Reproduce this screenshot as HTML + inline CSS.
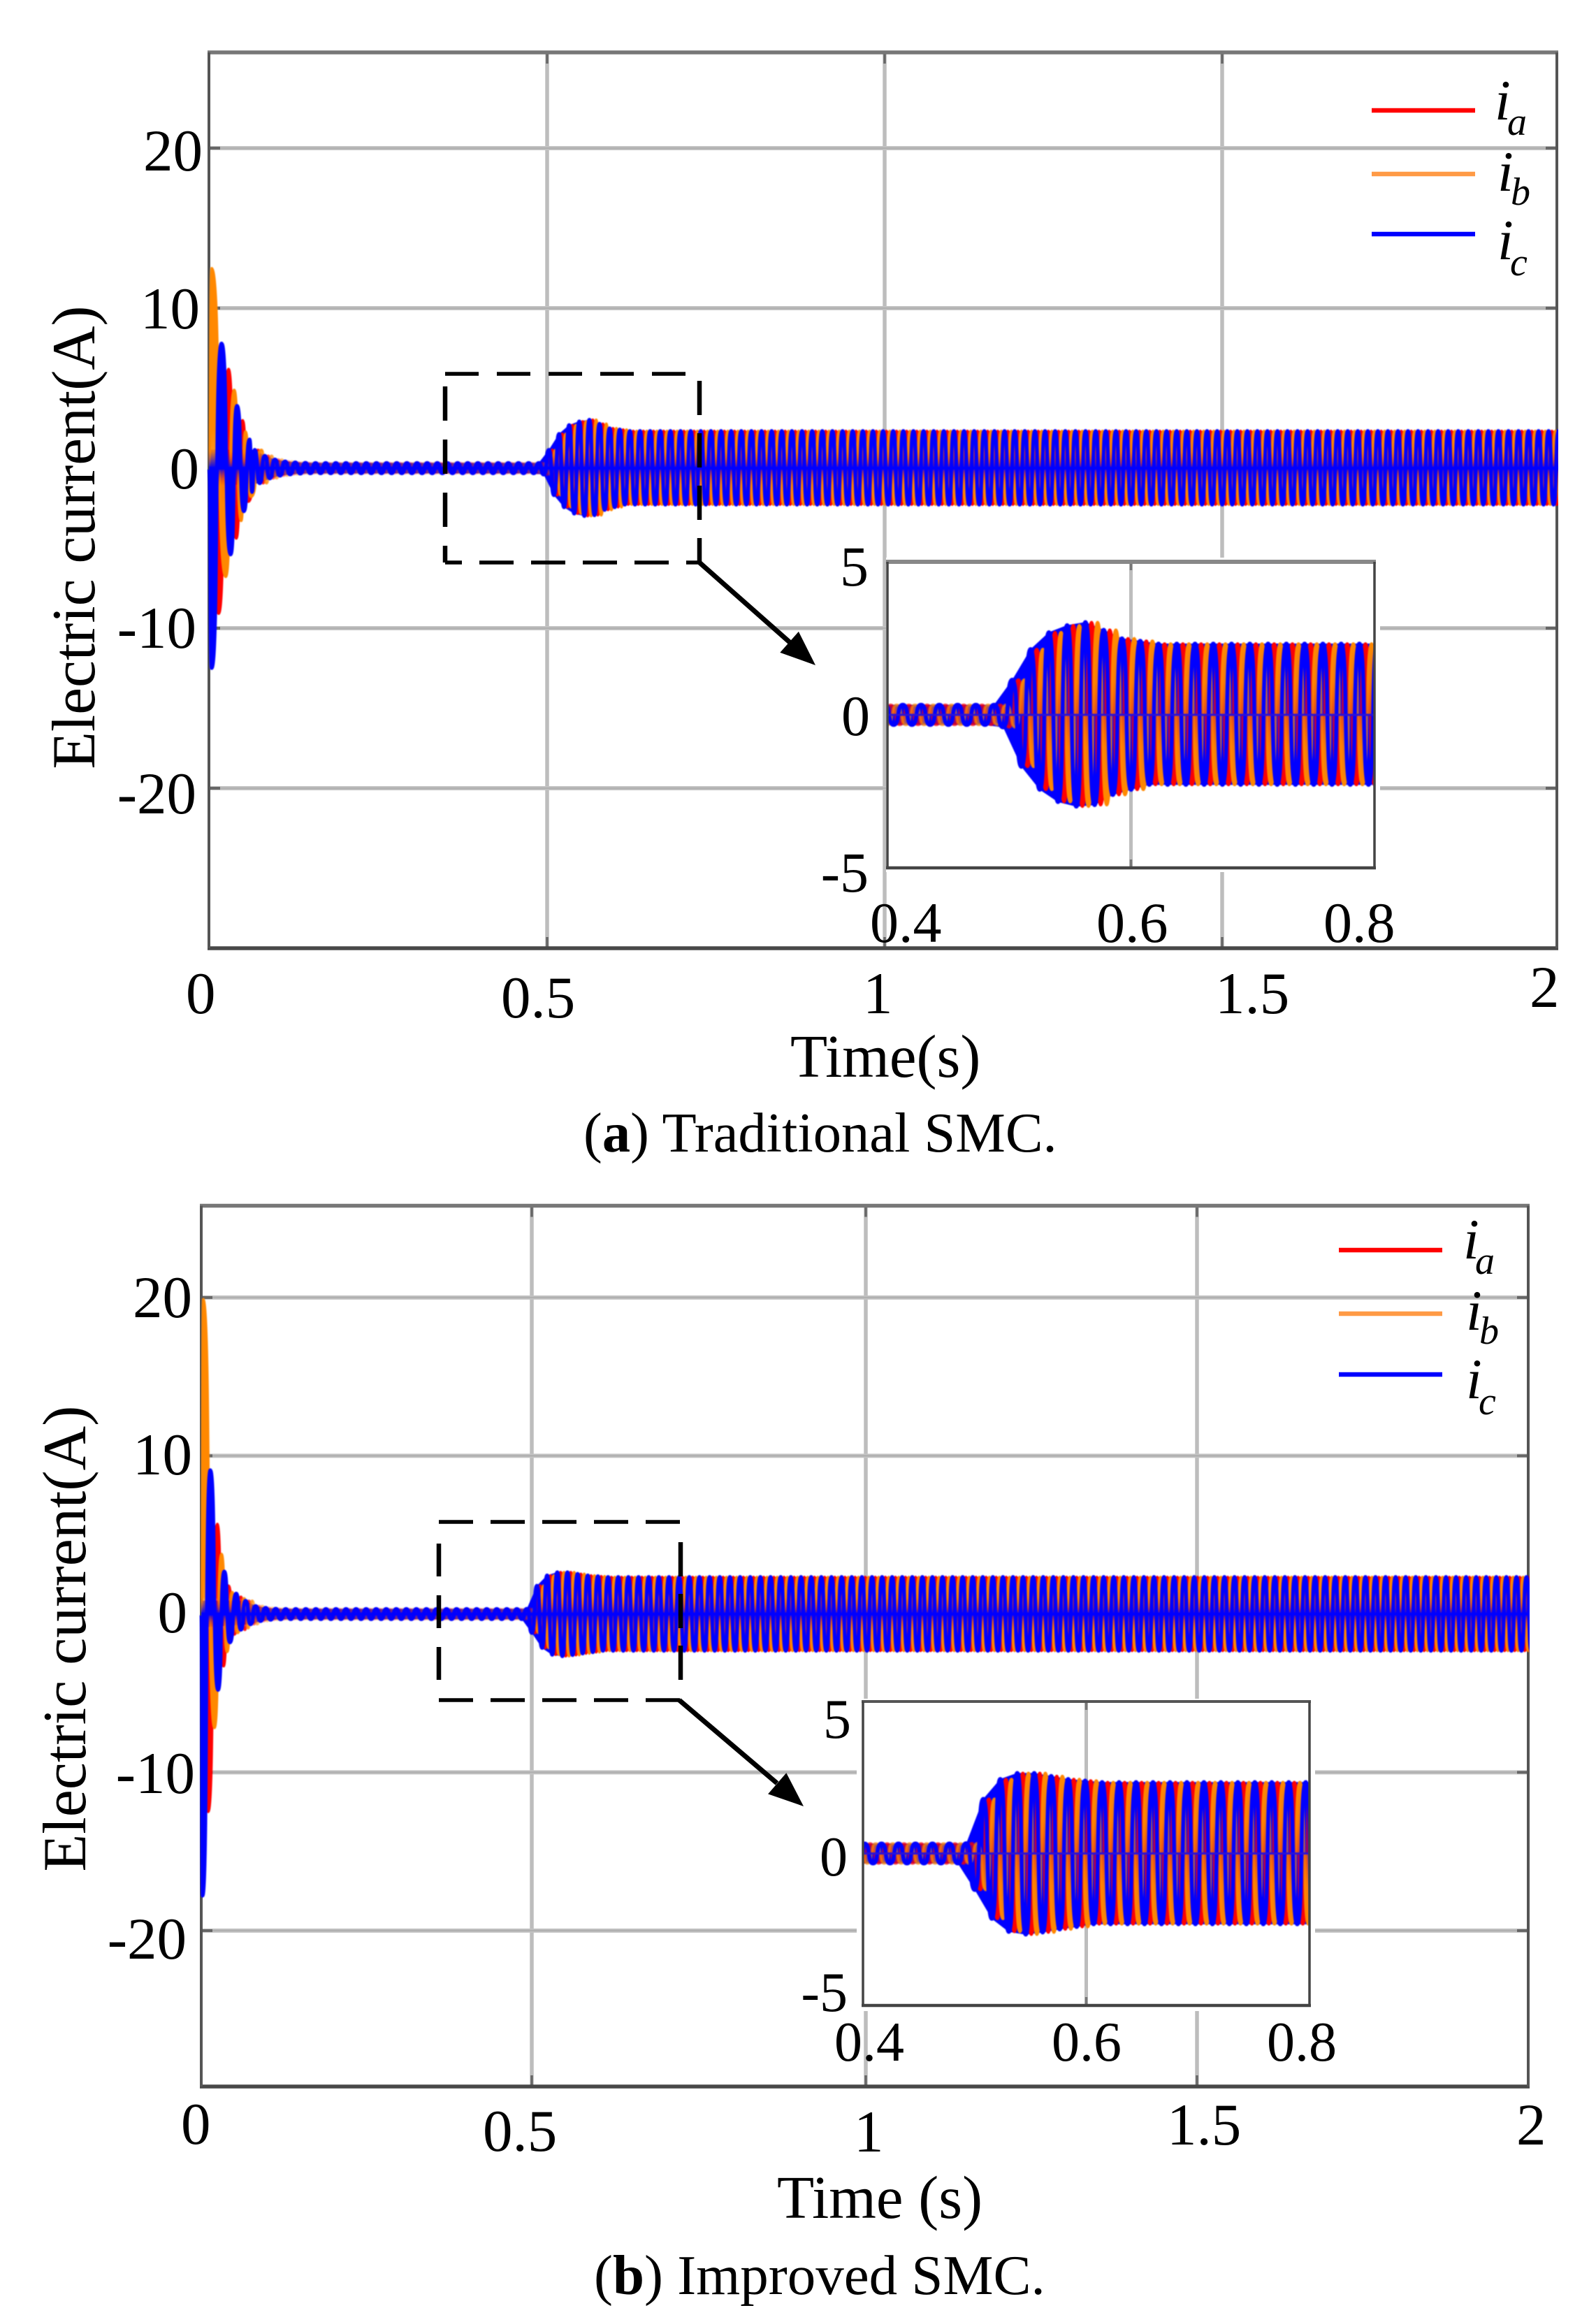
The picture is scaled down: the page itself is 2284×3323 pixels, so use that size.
<!DOCTYPE html>
<html lang="en">
<head>
<meta charset="utf-8">
<title>Three-phase current response: Traditional SMC vs Improved SMC</title>
<style>
html,body{margin:0;padding:0;background:#fff;}
svg{display:block;}
text{font-family:"Liberation Serif",serif;fill:#000;}
</style>
</head>
<body>
<svg id="figure" xmlns="http://www.w3.org/2000/svg" width="2284" height="3323" viewBox="0 0 2284 3323">
<rect width="2284" height="3323" fill="#fff"/>
<defs id="figure-defs">
<clipPath id="clip-main-a"><rect x="296" y="75" width="1934" height="1282"/></clipPath>
<clipPath id="clip-inset-a"><rect x="1270" y="804" width="697" height="438"/></clipPath>
<clipPath id="clip-main-b"><rect x="285" y="1725" width="1904" height="1261"/></clipPath>
<clipPath id="clip-inset-b"><rect x="1235" y="2435" width="639" height="435"/></clipPath>
</defs>

<g id="panel-a">
<g id="main-a"></g>
<g id="box-a" fill="none" stroke="#000">
<line x1="637" y1="535" x2="1003" y2="535" stroke-width="5.5" stroke-dasharray="48 26"/>
<line x1="637" y1="805" x2="1003" y2="805" stroke-width="5.5" stroke-dasharray="24 25 49 25 49 25 49 25 49 25 49 25"/>
<line x1="637" y1="553" x2="637" y2="805" stroke-width="6.5" stroke-dasharray="49 27"/>
<line x1="1001" y1="545" x2="1001" y2="805" stroke-width="6.5" stroke-dasharray="49 26"/>
</g>
<g>
<line x1="1001" y1="805" x2="1130" y2="919" stroke="#000" stroke-width="7"/>
<polygon points="1167,952 1116.3,933.9 1142.9,903.9" fill="#000"/>
</g>
<g>
<g>
<line x1="1963" y1="158" x2="2111" y2="158" stroke="#ff0000" stroke-width="6.5"/>
<text x="2139" y="171" font-size="82" font-style="italic">i</text>
<text x="2157" y="193" font-size="56" font-style="italic">a</text>
</g>
<g>
<line x1="1963" y1="249" x2="2111" y2="249" stroke="#ff9a45" stroke-width="6.5"/>
<text x="2143" y="273" font-size="82" font-style="italic">i</text>
<text x="2162" y="293" font-size="56" font-style="italic">b</text>
</g>
<g>
<line x1="1963" y1="335" x2="2111" y2="335" stroke="#0000ff" stroke-width="6.5"/>
<text x="2143" y="371" font-size="82" font-style="italic">i</text>
<text x="2161" y="394" font-size="56" font-style="italic">c</text>
</g>
</g>
<g font-size="85">
<text x="290" y="244" text-anchor="end">20</text>
<text x="286" y="470" text-anchor="end">10</text>
<text x="285" y="699" text-anchor="end">0</text>
<text x="281" y="927" text-anchor="end">-10</text>
<text x="281" y="1164" text-anchor="end">-20</text>
</g>
<g font-size="85">
<text x="266" y="1450">0</text>
<text x="717" y="1456">0.5</text>
<text x="1235" y="1450">1</text>
<text x="1739" y="1450">1.5</text>
<text x="2189" y="1441">2</text>
</g>
<text x="1131" y="1541" font-size="87">Time(s)</text>
<text transform="translate(135 769) rotate(-90)" text-anchor="middle" font-size="87.5">Electric current(A)</text>
<text x="835" y="1648" font-size="80.5">(<tspan font-weight="bold">a</tspan>) Traditional SMC.</text>
<g font-size="82">
<text x="1243" y="838" text-anchor="end">5</text>
<text x="1245" y="1052" text-anchor="end">0</text>
<text x="1243" y="1276" text-anchor="end">-5</text>
</g>
<g font-size="82">
<text x="1245" y="1348">0.4</text>
<text x="1569" y="1348">0.6</text>
<text x="1894" y="1348">0.8</text>
</g>
</g>

<g id="panel-b">
<g id="main-b"></g>
<g id="box-b" fill="none" stroke="#000">
<line x1="628" y1="2178" x2="976" y2="2178" stroke-width="5.5" stroke-dasharray="49 25"/>
<line x1="628" y1="2433" x2="976" y2="2433" stroke-width="5.5" stroke-dasharray="49 25"/>
<line x1="628" y1="2209" x2="628" y2="2408" stroke-width="6.5" stroke-dasharray="47 27"/>
<line x1="974" y1="2207" x2="974" y2="2406" stroke-width="6.5" stroke-dasharray="49 25"/>
</g>
<g>
<line x1="972" y1="2433" x2="1112" y2="2552" stroke="#000" stroke-width="7"/>
<polygon points="1150,2585 1099.1,2567.4 1125.3,2537.2" fill="#000"/>
</g>
<g>
<g>
<line x1="1916" y1="1789" x2="2064" y2="1789" stroke="#ff0000" stroke-width="6.5"/>
<text x="2094" y="1801" font-size="82" font-style="italic">i</text>
<text x="2111" y="1823" font-size="56" font-style="italic">a</text>
</g>
<g>
<line x1="1916" y1="1880" x2="2064" y2="1880" stroke="#ff9a45" stroke-width="6.5"/>
<text x="2098" y="1903" font-size="82" font-style="italic">i</text>
<text x="2117" y="1923" font-size="56" font-style="italic">b</text>
</g>
<g>
<line x1="1916" y1="1967" x2="2064" y2="1967" stroke="#0000ff" stroke-width="6.5"/>
<text x="2098" y="2001" font-size="82" font-style="italic">i</text>
<text x="2116" y="2024" font-size="56" font-style="italic">c</text>
</g>
</g>
<g font-size="85">
<text x="275" y="1885" text-anchor="end">20</text>
<text x="275" y="2110" text-anchor="end">10</text>
<text x="268" y="2336" text-anchor="end">0</text>
<text x="279" y="2566" text-anchor="end">-10</text>
<text x="267" y="2803" text-anchor="end">-20</text>
</g>
<g font-size="85">
<text x="259" y="3068">0</text>
<text x="691" y="3078">0.5</text>
<text x="1222" y="3079">1</text>
<text x="1670" y="3069">1.5</text>
<text x="2170" y="3069">2</text>
</g>
<text x="1112" y="3174" font-size="87">Time (s)</text>
<text transform="translate(122 2345) rotate(-90)" text-anchor="middle" font-size="88">Electric current(A)</text>
<text x="850" y="3283" font-size="81">(<tspan font-weight="bold">b</tspan>) Improved SMC.</text>
<g font-size="80">
<text x="1218" y="2487" text-anchor="end">5</text>
<text x="1213" y="2684" text-anchor="end">0</text>
<text x="1213" y="2878" text-anchor="end">-5</text>
</g>
<g font-size="80">
<text x="1194" y="2949">0.4</text>
<text x="1505" y="2949">0.6</text>
<text x="1813" y="2949">0.8</text>
</g>
</g>
</svg>

<script>
// ---- Axis ticks ----
const mainXTicks = [0.5, 1, 1.5];
const mainYTicks = [-20, -10, 0, 10, 20];
const insetXTicks = [0.6];

// ---- Panel (a) Traditional SMC: start-up peaks read per phase (seconds, amperes) ----
const transientTimeRedA = [0, 0.0145, 0.029, 0.0404, 0.0498, 0.0581];
const transientPeakRedA = [0, -9.1, 6.2, -4.4, 3.0, -2.1];
const transientTimeOrangeA = [0, 0.004, 0.0249, 0.0373, 0.0477, 0.0539, 0.0621];
const transientPeakOrangeA = [0, 12.5, -6.8, 4.9, -3.3, 2.3, -1.8];
const transientTimeBlueA = [0, 0.004, 0.0187, 0.0321, 0.0415, 0.0518, 0.0601, 0.0638];
const transientPeakBlueA = [0, -12.5, 7.8, -5.4, 3.9, -2.7, 1.8, -1.5];
const halfCycleA = 0.0075;
const firstBandPeakA = {red: 0.0726, orange: 0.0776, blue: 0.0676};
// Peak magnitude of each successive half cycle after start-up (shared by the phases)
const bandPeaksA = [
1.15,.95,.78,.65,.55,.48,.43,.4,.37,.35,.34,
.33,.33,.33,.33,.33,.33,.33,.33,.33,.33,
.33,.33,.33,.33,.33,.33,.33,.33,.33,.33,
.33,.33,.33,.33,.33,.33,.33,.33,.33,.33,
.33,.33,.33,.33,.33,.33,.33,.33,.33,.33,
.33,.33,.33,.33,.33,.33,
.41,1.15,1.7,2.15,2.45,2.7,2.85,2.93,3.0,3.03,2.95,2.78,2.62,2.5,2.45,2.42,
2.29,2.33,2.29,2.33,2.29,2.33,2.29,2.33,2.29,2.33,2.29,2.33,2.29,2.33,2.29,2.33,2.29,2.33,2.29,2.33,
2.29,2.33,2.29,2.33,2.29,2.33,2.29,2.33,2.29,2.33,2.29,2.33,2.29,2.33,2.29,2.33,2.29,2.33,2.29,2.33,
2.29,2.33,2.29,2.33,2.29,2.33,2.29,2.33,2.29,2.33,2.29,2.33,2.29,2.33,2.29,2.33,2.29,2.33,2.29,2.33,
2.29,2.33,2.29,2.33,2.29,2.33,2.29,2.33,2.29,2.33,2.29,2.33,2.29,2.33,2.29,2.33,2.29,2.33,2.29,2.33,
2.29,2.33,2.29,2.33,2.29,2.33,2.29,2.33,2.29,2.33,2.29,2.33,2.29,2.33,2.29,2.33,2.29,2.33,2.29,2.33,
2.29,2.33,2.29,2.33,2.29,2.33,2.29,2.33,2.29,2.33,2.29,2.33,2.29,2.33,2.29,2.33,2.29,2.33,2.29,2.33,
2.29,2.33,2.29,2.33,2.29,2.33,2.29,2.33,2.29,2.33,2.29,2.33,2.29,2.33,2.29,2.33,2.29,2.33,2.29,2.33,
2.29,2.33,2.29,2.33,2.29,2.33,2.29,2.33,2.29,2.33,2.29,2.33,2.29,2.33,2.29,2.33,2.29,2.33,2.29,2.33,
2.29,2.33,2.29,2.33,2.29,2.33,2.29,2.33,2.29,2.33,2.29,2.33,2.29,2.33,2.29,2.33,2.29,2.33,2.29,2.33,
2.29,2.33,2.29,2.33,2.29,2.33,2.29,2.33,2.29,2.33
];

// ---- Panel (b) Improved SMC ----
const transientTimeRedB = [0, 0.0106, 0.0243, 0.0338, 0.0412, 0.05, 0.06, 0.066];
const transientPeakRedB = [0, -12.5, 5.7, -3.3, 1.8, -1.3, 1.1, -1.0];
const transientTimeOrangeB = [0, 0.003, 0.02, 0.0307, 0.0391, 0.0465, 0.055, 0.065, 0.071];
const transientPeakOrangeB = [0, 19.9, -7.2, 3.8, -2.4, 1.4, -1.2, 1.0, -0.9];
const transientTimeBlueB = [0, 0.002, 0.0137, 0.0254, 0.0349, 0.0433, 0.0529, 0.06];
const transientPeakBlueB = [0, -17.8, 9.1, -4.8, 2.7, -1.8, 1.3, -1.0];
const halfCycleB = 0.0076;
const firstBandPeakB = {red: 0.072, orange: 0.077, blue: 0.067};
const bandPeaksB = [
.85,.65,.52,.45,.4,.37,.35,.34,
.33,.33,.33,.33,.33,.33,.33,.33,.33,.33,
.33,.33,.33,.33,.33,.33,.33,.33,.33,.33,
.33,.33,.33,.33,.33,.33,.33,.33,.33,.33,
.33,.33,.33,.33,.33,.33,.33,.33,.33,.33,
.33,.33,.33,.33,.33,.33,.33,.33,
.34,1.2,1.8,2.15,2.45,2.58,2.65,2.67,2.65,2.6,2.55,2.5,2.45,2.42,2.4,
2.33,2.35,2.33,2.35,2.33,2.35,2.33,2.35,2.33,2.35,2.33,2.35,2.33,2.35,2.33,2.35,2.33,2.35,2.33,2.35,
2.33,2.35,2.33,2.35,2.33,2.35,2.33,2.35,2.33,2.35,2.33,2.35,2.33,2.35,2.33,2.35,2.33,2.35,2.33,2.35,
2.33,2.35,2.33,2.35,2.33,2.35,2.33,2.35,2.33,2.35,2.33,2.35,2.33,2.35,2.33,2.35,2.33,2.35,2.33,2.35,
2.33,2.35,2.33,2.35,2.33,2.35,2.33,2.35,2.33,2.35,2.33,2.35,2.33,2.35,2.33,2.35,2.33,2.35,2.33,2.35,
2.33,2.35,2.33,2.35,2.33,2.35,2.33,2.35,2.33,2.35,2.33,2.35,2.33,2.35,2.33,2.35,2.33,2.35,2.33,2.35,
2.33,2.35,2.33,2.35,2.33,2.35,2.33,2.35,2.33,2.35,2.33,2.35,2.33,2.35,2.33,2.35,2.33,2.35,2.33,2.35,
2.33,2.35,2.33,2.35,2.33,2.35,2.33,2.35,2.33,2.35,2.33,2.35,2.33,2.35,2.33,2.35,2.33,2.35,2.33,2.35,
2.33,2.35,2.33,2.35,2.33,2.35,2.33,2.35,2.33,2.35,2.33,2.35,2.33,2.35,2.33,2.35,2.33,2.35,2.33,2.35,
2.33,2.35,2.33,2.35,2.33,2.35,2.33,2.35,2.33,2.35,2.33,2.35,2.33,2.35,2.33,2.35,2.33,2.35,2.33,2.35,
2.33,2.35,2.33,2.35,2.33,2.35
];

const SVGNS = 'http://www.w3.org/2000/svg';

function stopScale(domain, range) {
  return function (v) {
    let i = 0;
    while (i < domain.length - 2 && v > domain[i + 1]) i++;
    return range[i] + (v - domain[i]) / (domain[i + 1] - domain[i]) * (range[i + 1] - range[i]);
  };
}

function makeLine(parent, x1, y1, x2, y2, stroke, width, name) {
  const el = document.createElementNS(SVGNS, 'line');
  el.setAttribute('x1', x1);
  el.setAttribute('y1', y1);
  el.setAttribute('x2', x2);
  el.setAttribute('y2', y2);
  el.setAttribute('stroke', stroke);
  el.setAttribute('stroke-width', width);
  
  
  parent.appendChild(el);
  return el;
}

function makeGroup(parent, name) {
  const g = document.createElementNS(SVGNS, 'g');
  
  
  parent.appendChild(g);
  return g;
}

function phasePeaks(tTimes, tPeaks, firstPeak, half, band) {
  const t = tTimes.slice();
  const v = tPeaks.slice();
  band.forEach(function (mag, i) {
    t.push(firstPeak + i * half);
    v.push(i % 2 === 0 ? mag : -mag);
  });
  return {t: t, v: v};
}

// Flat-topped lobes joining successive peaks, matching the columnar look of the plotted traces.
function peakPath(series, x, y, xLimit) {
  let d = 'M' + x(series.t[0]).toFixed(2) + ' ' + y(series.v[0]).toFixed(2);
  let lastX = x(series.t[0]);
  for (let i = 1; i < series.t.length; i++) {
    if (series.t[i - 1] > xLimit) break;
    const x0 = x(series.t[i - 1]), x1 = x(series.t[i]);
    const y0 = y(series.v[i - 1]), y1 = y(series.v[i]);
    const c = (x1 - x0) * 0.72;
    d += 'C' + (x0 + c).toFixed(2) + ' ' + y0.toFixed(2) + ' ' + (x1 - c).toFixed(2) + ' ' + y1.toFixed(2) + ' ' + x1.toFixed(2) + ' ' + y1.toFixed(2);
    lastX = x1;
  }
  return {curve: d, lastX: lastX};
}

// Outline of the whole oscillation band, from the shared half-cycle peaks.
function bandEnvelopePath(band, firstPeak, half, x, y) {
  const upper = [x(0).toFixed(2) + ' ' + y(band[0]).toFixed(2)];
  const lower = [x(0).toFixed(2) + ' ' + y(-band[0]).toFixed(2)];
  band.forEach(function (mag, i) {
    const px = x(firstPeak + i * half).toFixed(2);
    if (i % 2 === 0) upper.push(px + ' ' + y(mag).toFixed(2));
    else lower.unshift(px + ' ' + y(-mag).toFixed(2));
  });
  return 'M' + upper.join('L') + 'L' + lower.join('L') + 'Z';
}

let fadeCounter = 0;
// Vertical fade: a phase is saturated at the band edges and blends into blue toward zero.
function makeFade(color, yTop, yBottom, centerOpacity) {
  const id = 'phase-fade-' + (++fadeCounter);
  const grad = document.createElementNS(SVGNS, 'linearGradient');
  grad.setAttribute('id', id);
  grad.setAttribute('gradientUnits', 'userSpaceOnUse');
  grad.setAttribute('x1', 0);
  grad.setAttribute('x2', 0);
  grad.setAttribute('y1', yTop);
  grad.setAttribute('y2', yBottom);
  [[0, 1], [0.28, 0.9], [0.5, centerOpacity], [0.72, 0.9], [1, 1]].forEach(function (s) {
    const stop = document.createElementNS(SVGNS, 'stop');
    stop.setAttribute('offset', s[0]);
    stop.setAttribute('stop-color', color);
    stop.setAttribute('stop-opacity', s[1]);
    grad.appendChild(stop);
  });
  document.getElementById('figure-defs').appendChild(grad);
  return 'url(#' + id + ')';
}

function drawSeries(parent, clipId, phases, underlay, x, y, strokeWidth, xLimit, blur, centerOpacity, zeroColor, zeroWidth) {
  const clip = makeGroup(parent, 'series-clip');
  clip.setAttribute('clip-path', 'url(#' + clipId + ')');
  const soft = makeGroup(clip, 'series-group');
  soft.setAttribute('style', 'filter:blur(' + blur + 'px)');

  const band = document.createElementNS(SVGNS, 'path');
  band.setAttribute('d', bandEnvelopePath(underlay.band, underlay.first, underlay.half, x, y));
  band.setAttribute('fill', '#0000ff');
  
  
  soft.appendChild(band);

  phases.forEach(function (p) {
    const paint = p.fade ? makeFade(p.color, y(2.4), y(-2.4), centerOpacity) : p.color;
    const shape = peakPath(p.series, x, y, xLimit);
    const lobes = peakPath(p.lobeSeries, x, y, xLimit);
    const area = document.createElementNS(SVGNS, 'path');
    area.setAttribute('d', lobes.curve + 'L' + lobes.lastX.toFixed(2) + ' ' + y(0).toFixed(2) + 'Z');
    area.setAttribute('fill', paint);
    
    
    soft.appendChild(area);
    const line = document.createElementNS(SVGNS, 'path');
    line.setAttribute('d', shape.curve);
    line.setAttribute('fill', 'none');
    line.setAttribute('stroke', paint);
    line.setAttribute('stroke-width', strokeWidth * p.weight);
    line.setAttribute('stroke-linejoin', 'round');
    
    
    soft.appendChild(line);
  });

  makeLine(soft, x(0), y(0), x(2), y(0), zeroColor, zeroWidth, 'zero-crossing-line');
}

function drawPanel(cfg) {
  const root = document.getElementById(cfg.rootId);
  const m = cfg.main;
  const x = stopScale([0, 0.5, 1, 1.5, 2], m.xStops);
  const y = stopScale([m.yBottom, m.yTop], [m.bottom, m.top]);

  // main grid
  const grid = makeGroup(root, 'main-grid');
  mainXTicks.forEach(function (t) {
    makeLine(grid, x(t), m.top, x(t), m.bottom, '#bdbdbd', 5.5, 'x-gridline');
    makeLine(grid, x(t), m.top, x(t), m.top + 16, '#666', 3.5, 'x-tick-top');
    makeLine(grid, x(t), m.bottom - 16, x(t), m.bottom, '#666', 3.5, 'x-tick-bottom');
  });
  mainYTicks.forEach(function (v) {
    makeLine(grid, x(0), y(v), x(2), y(v), '#c4c4c4', 6, 'y-gridline');
    makeLine(grid, x(0), y(v), x(2), y(v), '#b0b0b0', 2.5, 'y-gridline-core');
    makeLine(grid, x(0), y(v), x(0) + 16, y(v), '#666', 4, 'y-tick-left');
    makeLine(grid, x(2) - 16, y(v), x(2), y(v), '#666', 4, 'y-tick-right');
  });

  // main frame
  const frame = makeGroup(root, 'main-frame');
  makeLine(frame, x(0) - 2, m.top, x(2) + 2, m.top, '#777', 5.5, 'frame-top');
  makeLine(frame, x(0) - 2, m.bottom, x(2) + 2, m.bottom, '#484848', 5.5, 'frame-bottom');
  makeLine(frame, x(0), m.top, x(0), m.bottom, '#555', 4, 'frame-left');
  makeLine(frame, x(2), m.top, x(2), m.bottom, '#555', 4, 'frame-right');

  const redSeries = phasePeaks(cfg.red.t, cfg.red.v, cfg.first.red, cfg.half, cfg.band);
  const orangeSeries = phasePeaks(cfg.orange.t, cfg.orange.v, cfg.first.orange, cfg.half, cfg.band);
  const blueSeries = phasePeaks(cfg.blue.t, cfg.blue.v, cfg.first.blue, cfg.half, cfg.band);
  const phases = [
    {name: 'series-ia', color: '#ff0000', fade: true, weight: 0.8, series: redSeries, lobeSeries: redSeries},
    {name: 'series-ib', color: '#ff8800', fade: true, weight: 0.8, series: orangeSeries, lobeSeries: orangeSeries},
    {name: 'series-ic', color: '#0000ff', fade: false, weight: 1.2, series: blueSeries, lobeSeries: {t: cfg.blue.t, v: cfg.blue.v}}
  ];
  const underlay = {band: cfg.band, first: cfg.first.blue, half: cfg.half};
  drawSeries(root, cfg.clipMain, phases, underlay, x, y, m.stroke, 2.05, 0.7, 0, '#0000ff', 4);

  // inset
  const n = cfg.inset;
  const inset = makeGroup(root, 'inset-plot');
  const mask = document.createElementNS(SVGNS, 'rect');
  mask.setAttribute('x', n.maskX);
  mask.setAttribute('y', n.maskY);
  mask.setAttribute('width', n.maskW);
  mask.setAttribute('height', n.maskH);
  mask.setAttribute('fill', '#fff');
  
  
  inset.appendChild(mask);

  const ix = stopScale([0.4, 0.8], [n.left, n.right]);
  const iy = stopScale([-5, 5], [n.bottom, n.top]);
  insetXTicks.forEach(function (t) {
    makeLine(inset, ix(t), n.top, ix(t), n.bottom, '#bdbdbd', 5, 'inset-x-gridline');
    makeLine(inset, ix(t), n.top, ix(t), n.top + 12, '#777', 3.5, 'inset-x-tick-top');
    makeLine(inset, ix(t), n.bottom - 12, ix(t), n.bottom, '#777', 3.5, 'inset-x-tick-bottom');
  });
  drawSeries(inset, cfg.clipInset, phases, underlay, ix, iy, n.stroke, 0.82, 0.8, 0.55, '#2a12d8', 3);
  makeLine(inset, n.left - 2, n.top, n.right + 2, n.top, n.topColor, n.topWidth, 'inset-frame-top');
  makeLine(inset, n.left - 2, n.bottom, n.right + 2, n.bottom, '#444', 4.5, 'inset-frame-bottom');
  makeLine(inset, n.left, n.top, n.left, n.bottom, '#444', 3.5, 'inset-frame-left');
  makeLine(inset, n.right, n.top, n.right, n.bottom, '#444', 3.5, 'inset-frame-right');
}

drawPanel({
  rootId: 'main-a', clipMain: 'clip-main-a', clipInset: 'clip-inset-a',
  red: {t: transientTimeRedA, v: transientPeakRedA},
  orange: {t: transientTimeOrangeA, v: transientPeakOrangeA},
  blue: {t: transientTimeBlueA, v: transientPeakBlueA},
  first: firstBandPeakA, half: halfCycleA, band: bandPeaksA,
  main: {xStops: [299, 783, 1266, 1749, 2228], top: 75, bottom: 1357, yTop: 25.98, yBottom: -30, stroke: 4.2},
  inset: {left: 1270, right: 1967, top: 804, bottom: 1242, stroke: 4.6, topColor: '#888', topWidth: 6,
          maskX: 1268, maskY: 798, maskW: 707, maskH: 450}
});

drawPanel({
  rootId: 'main-b', clipMain: 'clip-main-b', clipInset: 'clip-inset-b',
  red: {t: transientTimeRedB, v: transientPeakRedB},
  orange: {t: transientTimeOrangeB, v: transientPeakOrangeB},
  blue: {t: transientTimeBlueB, v: transientPeakBlueB},
  first: firstBandPeakB, half: halfCycleB, band: bandPeaksB,
  main: {xStops: [288, 761, 1239, 1713, 2187], top: 1725.5, bottom: 2986, yTop: 25.8, yBottom: -29.85, stroke: 4.2},
  inset: {left: 1235, right: 1874, top: 2435, bottom: 2870, stroke: 4.6, topColor: '#555', topWidth: 4,
          maskX: 1226, maskY: 2431, maskW: 656, maskH: 447}
});
</script>
</body>
</html>
